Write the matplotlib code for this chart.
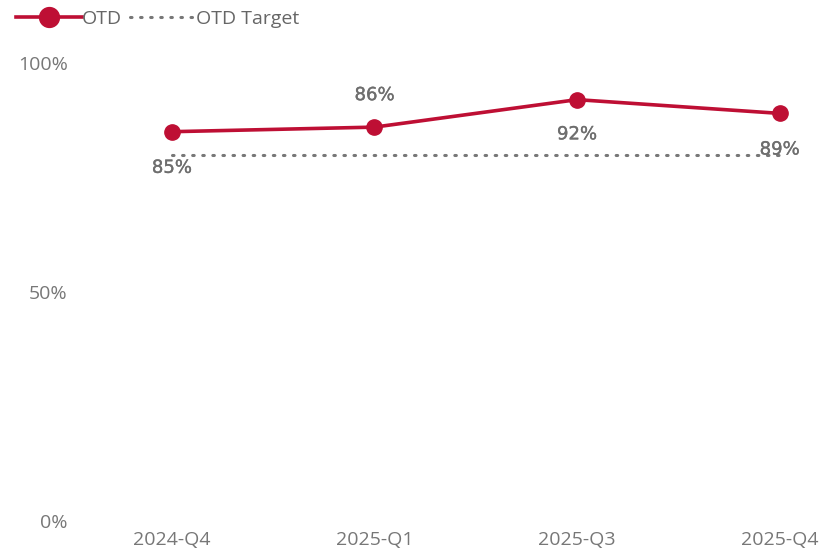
import matplotlib.pyplot as plt
import matplotlib.patheffects as pe

quarters = ['2024-Q4', '2025-Q1', '2025-Q3', '2025-Q4']
otd = [0.85, 0.86, 0.92, 0.89]
otd_target = [0.80, 0.80, 0.80, 0.80]
label_offsets = [-26, 23, -25, -26]  # points, below / above marker

red = '#BE0F34'
grey = '#666666'

plt.rcParams['font.family'] = ['Open Sans', 'DejaVu Sans']

fig = plt.figure(figsize=(8.25, 5.54), dpi=100)
W, H = 825, 554
ax = fig.add_axes([72 / W, (H - 521) / H, (W - 72) / W, (521 - 63) / H])

x = list(range(len(quarters)))
ax.plot(x, otd, color=red, lw=2.6, marker='o', markersize=11,
        label='OTD', clip_on=False, zorder=3)
ax.plot(x, otd_target, color='#777777', lw=2.2, linestyle=(0, (0.5, 2.8)),
        dash_capstyle='round', label='OTD Target', zorder=2)

for xi, v, off in zip(x, otd, label_offsets):
    ax.annotate(f'{v * 100:.0f}%', (xi, v), xytext=(0, off),
                textcoords='offset points', ha='center', va='center',
                fontsize=13, color='#6e6e6e', family='DejaVu Sans',
                path_effects=[pe.withStroke(linewidth=0.25, foreground='#6e6e6e')])

ax.set_xlim(-0.493, 3.224)
ax.set_ylim(0, 1)
ax.set_yticks([0, 0.5, 1])
ax.set_yticklabels(['0%', '50%', '100%'])
ax.set_xticks(x)
ax.set_xticklabels(quarters)
ax.tick_params(axis='both', length=0, labelsize=14, labelcolor='#777777')
ax.tick_params(axis='y', pad=3)
ax.tick_params(axis='x', pad=7)
for s in ax.spines.values():
    s.set_visible(False)

leg = fig.legend(loc='upper left', bbox_to_anchor=(0.005, 1.003), ncol=2,
                 frameon=False, fontsize=14, handlelength=3.4,
                 handletextpad=0.0, columnspacing=0.4, borderaxespad=0.2,
                 markerscale=1.3)
for t in leg.get_texts():
    t.set_color(grey)

fig.savefig('out.png', dpi=100)
